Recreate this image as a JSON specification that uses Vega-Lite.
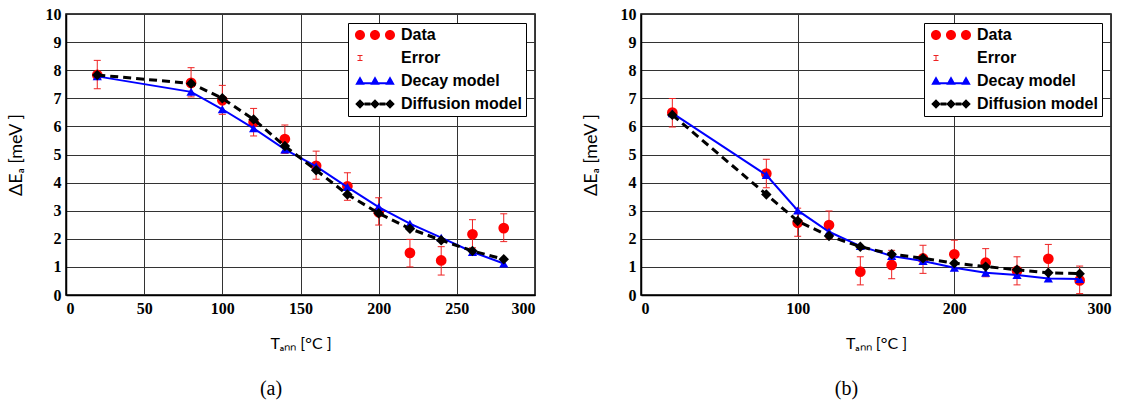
{
  "$schema": "https://vega.github.io/schema/vega-lite/v6.json",
  "padding": {"left": 6, "top": 5, "right": 5, "bottom": 0},
  "background": "white",
  "config": {
    "view": {"stroke": "black", "strokeWidth": 1.5},
    "axis": {
      "labelFont": "Liberation Serif", "labelFontWeight": "bold", "labelFontSize": 16, "labelColor": "black",
      "ticks": false, "labelPadding": 5,
      "grid": true, "gridColor": "#333333", "gridWidth": 1, "gridOpacity": 1,
      "domainColor": "black", "domainWidth": 1.5,
      "titleFont": "Lato", "titleFontWeight": "normal", "titleFontSize": 16, "titleColor": "black"
    },
    "axisY": {"titleFontSize": 18},
    "legend": {
      "title": null, "orient": "top-right", "offset": 9, "padding": 4,
      "strokeColor": "black", "fillColor": "white",
      "labelFont": "Liberation Sans", "labelFontSize": 16, "labelFontWeight": "bold", "labelColor": "black",
      "symbolSize": 100, "symbolStrokeWidth": 0, "labelOffset": 33, "rowPadding": 7
    },
    "title": {"font": "Liberation Serif", "fontSize": 20, "fontWeight": "normal", "color": "black"}
  },
  "datasets": {
    "d": [
      {"p": "a", "s": "Data", "T": 20, "v": 7.83, "lo": 7.34, "hi": 8.35},
      {"p": "a", "s": "Data", "T": 80, "v": 7.55, "lo": 7.05, "hi": 8.09},
      {"p": "a", "s": "Data", "T": 100, "v": 6.93, "lo": 6.43, "hi": 7.46},
      {"p": "a", "s": "Data", "T": 120, "v": 6.15, "lo": 5.66, "hi": 6.64},
      {"p": "a", "s": "Data", "T": 140, "v": 5.55, "lo": 5.04, "hi": 6.05},
      {"p": "a", "s": "Data", "T": 160, "v": 4.6, "lo": 4.12, "hi": 5.12},
      {"p": "a", "s": "Data", "T": 180, "v": 3.87, "lo": 3.37, "hi": 4.35},
      {"p": "a", "s": "Data", "T": 200, "v": 2.95, "lo": 2.49, "hi": 3.46},
      {"p": "a", "s": "Data", "T": 220, "v": 1.5, "lo": 1.0, "hi": 1.98},
      {"p": "a", "s": "Data", "T": 240, "v": 1.23, "lo": 0.71, "hi": 1.72},
      {"p": "a", "s": "Data", "T": 260, "v": 2.16, "lo": 1.68, "hi": 2.68},
      {"p": "a", "s": "Data", "T": 280, "v": 2.38, "lo": 1.9, "hi": 2.89},
      {"p": "a", "s": "Decay model", "T": 20, "v": 7.78},
      {"p": "a", "s": "Decay model", "T": 80, "v": 7.23},
      {"p": "a", "s": "Decay model", "T": 100, "v": 6.61},
      {"p": "a", "s": "Decay model", "T": 120, "v": 5.93},
      {"p": "a", "s": "Decay model", "T": 140, "v": 5.18},
      {"p": "a", "s": "Decay model", "T": 160, "v": 4.58},
      {"p": "a", "s": "Decay model", "T": 180, "v": 3.84},
      {"p": "a", "s": "Decay model", "T": 200, "v": 3.13},
      {"p": "a", "s": "Decay model", "T": 220, "v": 2.54},
      {"p": "a", "s": "Decay model", "T": 240, "v": 2.04},
      {"p": "a", "s": "Decay model", "T": 260, "v": 1.53},
      {"p": "a", "s": "Decay model", "T": 280, "v": 1.12},
      {"p": "a", "s": "Diffusion model", "T": 20, "v": 7.83},
      {"p": "a", "s": "Diffusion model", "T": 80, "v": 7.53},
      {"p": "a", "s": "Diffusion model", "T": 100, "v": 7.0},
      {"p": "a", "s": "Diffusion model", "T": 120, "v": 6.25},
      {"p": "a", "s": "Diffusion model", "T": 140, "v": 5.3},
      {"p": "a", "s": "Diffusion model", "T": 160, "v": 4.44},
      {"p": "a", "s": "Diffusion model", "T": 180, "v": 3.58},
      {"p": "a", "s": "Diffusion model", "T": 200, "v": 2.91},
      {"p": "a", "s": "Diffusion model", "T": 220, "v": 2.36},
      {"p": "a", "s": "Diffusion model", "T": 240, "v": 1.95},
      {"p": "a", "s": "Diffusion model", "T": 260, "v": 1.57},
      {"p": "a", "s": "Diffusion model", "T": 280, "v": 1.27},
      {"p": "b", "s": "Data", "T": 20, "v": 6.49, "lo": 5.98, "hi": 6.99},
      {"p": "b", "s": "Data", "T": 80, "v": 4.32, "lo": 3.82, "hi": 4.83},
      {"p": "b", "s": "Data", "T": 100, "v": 2.57, "lo": 2.09, "hi": 3.09},
      {"p": "b", "s": "Data", "T": 120, "v": 2.49, "lo": 2.0, "hi": 2.99},
      {"p": "b", "s": "Data", "T": 140, "v": 0.83, "lo": 0.36, "hi": 1.36},
      {"p": "b", "s": "Data", "T": 160, "v": 1.07, "lo": 0.58, "hi": 1.59},
      {"p": "b", "s": "Data", "T": 180, "v": 1.3, "lo": 0.77, "hi": 1.77},
      {"p": "b", "s": "Data", "T": 200, "v": 1.45, "lo": 0.97, "hi": 1.95},
      {"p": "b", "s": "Data", "T": 220, "v": 1.15, "lo": 0.65, "hi": 1.65},
      {"p": "b", "s": "Data", "T": 240, "v": 0.86, "lo": 0.36, "hi": 1.36},
      {"p": "b", "s": "Data", "T": 260, "v": 1.29, "lo": 0.82, "hi": 1.8},
      {"p": "b", "s": "Data", "T": 280, "v": 0.52, "lo": 0.05, "hi": 1.03},
      {"p": "b", "s": "Decay model", "T": 20, "v": 6.47},
      {"p": "b", "s": "Decay model", "T": 80, "v": 4.27},
      {"p": "b", "s": "Decay model", "T": 100, "v": 3.01},
      {"p": "b", "s": "Decay model", "T": 120, "v": 2.25},
      {"p": "b", "s": "Decay model", "T": 140, "v": 1.74},
      {"p": "b", "s": "Decay model", "T": 160, "v": 1.39},
      {"p": "b", "s": "Decay model", "T": 180, "v": 1.21},
      {"p": "b", "s": "Decay model", "T": 200, "v": 0.97},
      {"p": "b", "s": "Decay model", "T": 220, "v": 0.79},
      {"p": "b", "s": "Decay model", "T": 240, "v": 0.71},
      {"p": "b", "s": "Decay model", "T": 260, "v": 0.59},
      {"p": "b", "s": "Decay model", "T": 280, "v": 0.57},
      {"p": "b", "s": "Diffusion model", "T": 20, "v": 6.41},
      {"p": "b", "s": "Diffusion model", "T": 80, "v": 3.58},
      {"p": "b", "s": "Diffusion model", "T": 100, "v": 2.63},
      {"p": "b", "s": "Diffusion model", "T": 120, "v": 2.1},
      {"p": "b", "s": "Diffusion model", "T": 140, "v": 1.72},
      {"p": "b", "s": "Diffusion model", "T": 160, "v": 1.45},
      {"p": "b", "s": "Diffusion model", "T": 180, "v": 1.31},
      {"p": "b", "s": "Diffusion model", "T": 200, "v": 1.13},
      {"p": "b", "s": "Diffusion model", "T": 220, "v": 1.01},
      {"p": "b", "s": "Diffusion model", "T": 240, "v": 0.9},
      {"p": "b", "s": "Diffusion model", "T": 260, "v": 0.79},
      {"p": "b", "s": "Diffusion model", "T": 280, "v": 0.76}
    ]
  },
  "bounds": "flush",
  "spacing": 106,
  "resolve": {
    "scale": {"color": "independent", "shape": "independent", "x": "independent", "y": "independent"},
    "legend": {"color": "independent", "shape": "independent"}
  },
  "hconcat": [
    {
      "width": 469, "height": 281,
      "title": {"text": "(a)", "orient": "bottom", "frame": "bounds", "anchor": "middle", "offset": 28},
      "encoding": {
        "x": {"field": "T", "type": "quantitative", "title": "Tₐₙₙ [°C ]",
              "scale": {"domain": [0, 300], "nice": false},
              "axis": {"values": [0, 50, 100, 150, 200, 250, 300], "titlePadding": 19}}
      },
      "layer": [
        {
          "data": {"name": "d"},
          "transform": [{"filter": "false"}],
          "mark": {"type": "point", "filled": true, "opacity": 1, "size": 100},
          "encoding": {
            "y": {"field": "v", "type": "quantitative", "title": "ΔEₐ [meV ]", "scale": {"domain": [0, 10], "nice": false}, "axis": {"values": [0,1,2,3,4,5,6,7,8,9,10], "titlePadding": 20, "labelOverlap": false}},
            "color": {"field": "s", "type": "nominal",
              "scale": {"domain": ["Data", "Error", "Decay model", "Diffusion model"], "range": ["#ff0000", "#ee2222", "#0000ff", "#000000"]}},
            "shape": {"field": "s", "type": "nominal",
              "scale": {"domain": ["Data", "Error", "Decay model", "Diffusion model"],
                "range": [
                  "M -1 0 A 1 1 0 1 1 1 0 A 1 1 0 1 1 -1 0 Z M 2 0 A 1 1 0 1 1 4 0 A 1 1 0 1 1 2 0 Z M 5 0 A 1 1 0 1 1 7 0 A 1 1 0 1 1 5 0 Z",
                  "M -0.5 -0.6 L 0.5 -0.6 L 0.5 -0.42 L 0.1 -0.42 L 0.1 0.42 L 0.5 0.42 L 0.5 0.6 L -0.5 0.6 L -0.5 0.42 L -0.1 0.42 L -0.1 -0.42 L -0.5 -0.42 Z",
                  "M 0 -0.95 L 0.95 0.75 L -0.95 0.75 Z M 3 -0.95 L 3.95 0.75 L 2.05 0.75 Z M 6 -0.95 L 6.95 0.75 L 5.05 0.75 Z M 0 0.25 L 6 0.25 L 6 0.65 L 0 0.65 Z",
                  "M 0 -0.95 L 0.95 0 L 0 0.95 L -0.95 0 Z M 3 -0.95 L 3.95 0 L 3 0.95 L 2.05 0 Z M 6 -0.95 L 6.95 0 L 6 0.95 L 5.05 0 Z M 0.9 -0.3 L 2.1 -0.3 L 2.1 0.3 L 0.9 0.3 Z M 3.9 -0.3 L 5.1 -0.3 L 5.1 0.3 L 3.9 0.3 Z"
                ]}}
          }
        },
        {
          "data": {"name": "d"},
          "transform": [{"filter": "datum.p == 'a' && datum.s == 'Data'"}],
          "mark": {"type": "rule", "color": "#ee2222", "strokeWidth": 1},
          "encoding": {"y": {"field": "lo", "type": "quantitative", "title": "ΔEₐ [meV ]", "axis": {"values": [0,1,2,3,4,5,6,7,8,9,10], "titlePadding": 20, "labelOverlap": false}}, "y2": {"field": "hi"}}
        },
        {
          "data": {"name": "d"},
          "transform": [{"filter": "datum.p == 'a' && datum.s == 'Data'"}],
          "mark": {"type": "tick", "orient": "horizontal", "color": "#ee2222", "size": 7, "thickness": 1, "opacity": 1},
          "encoding": {"y": {"field": "lo", "type": "quantitative", "title": "ΔEₐ [meV ]", "axis": {"values": [0,1,2,3,4,5,6,7,8,9,10], "titlePadding": 20, "labelOverlap": false}}}
        },
        {
          "data": {"name": "d"},
          "transform": [{"filter": "datum.p == 'a' && datum.s == 'Data'"}],
          "mark": {"type": "tick", "orient": "horizontal", "color": "#ee2222", "size": 7, "thickness": 1, "opacity": 1},
          "encoding": {"y": {"field": "hi", "type": "quantitative", "title": "ΔEₐ [meV ]", "axis": {"values": [0,1,2,3,4,5,6,7,8,9,10], "titlePadding": 20, "labelOverlap": false}}}
        },
        {
          "data": {"name": "d"},
          "transform": [{"filter": "datum.p == 'a' && datum.s == 'Data'"}],
          "mark": {"type": "point", "shape": "circle", "filled": true, "color": "#ff0000", "size": 115, "opacity": 1},
          "encoding": {"y": {"field": "v", "type": "quantitative", "title": "ΔEₐ [meV ]", "axis": {"values": [0,1,2,3,4,5,6,7,8,9,10], "titlePadding": 20, "labelOverlap": false}}}
        },
        {
          "data": {"name": "d"},
          "transform": [{"filter": "datum.p == 'a' && datum.s == 'Decay model'"}],
          "mark": {"type": "line", "color": "#0000ff", "strokeWidth": 2,
                   "point": {"shape": "triangle-up", "size": 85, "filled": true, "color": "#0000ff", "opacity": 1}},
          "encoding": {"y": {"field": "v", "type": "quantitative", "title": "ΔEₐ [meV ]", "axis": {"values": [0,1,2,3,4,5,6,7,8,9,10], "titlePadding": 20, "labelOverlap": false}}}
        },
        {
          "data": {"name": "d"},
          "transform": [{"filter": "datum.p == 'a' && datum.s == 'Diffusion model'"}],
          "mark": {"type": "line", "color": "#000000", "strokeWidth": 3, "strokeDash": [8, 5],
                   "point": {"shape": "diamond", "size": 110, "filled": true, "color": "#000000", "opacity": 1}},
          "encoding": {"y": {"field": "v", "type": "quantitative", "title": "ΔEₐ [meV ]", "axis": {"values": [0,1,2,3,4,5,6,7,8,9,10], "titlePadding": 20, "labelOverlap": false}}}
        }
      ]
    },
    {
      "width": 470, "height": 281,
      "title": {"text": "(b)", "orient": "bottom", "frame": "bounds", "anchor": "middle", "offset": 28},
      "encoding": {
        "x": {"field": "T", "type": "quantitative", "title": "Tₐₙₙ [°C ]",
              "scale": {"domain": [0, 300], "nice": false},
              "axis": {"values": [0, 100, 200, 300], "titlePadding": 19}}
      },
      "layer": [
        {
          "data": {"name": "d"},
          "transform": [{"filter": "false"}],
          "mark": {"type": "point", "filled": true, "opacity": 1, "size": 100},
          "encoding": {
            "y": {"field": "v", "type": "quantitative", "title": "ΔEₐ [meV ]", "scale": {"domain": [0, 10], "nice": false}, "axis": {"values": [0,1,2,3,4,5,6,7,8,9,10], "titlePadding": 20, "labelOverlap": false}},
            "color": {"field": "s", "type": "nominal",
              "scale": {"domain": ["Data", "Error", "Decay model", "Diffusion model"], "range": ["#ff0000", "#ee2222", "#0000ff", "#000000"]}},
            "shape": {"field": "s", "type": "nominal",
              "scale": {"domain": ["Data", "Error", "Decay model", "Diffusion model"],
                "range": [
                  "M -1 0 A 1 1 0 1 1 1 0 A 1 1 0 1 1 -1 0 Z M 2 0 A 1 1 0 1 1 4 0 A 1 1 0 1 1 2 0 Z M 5 0 A 1 1 0 1 1 7 0 A 1 1 0 1 1 5 0 Z",
                  "M -0.5 -0.6 L 0.5 -0.6 L 0.5 -0.42 L 0.1 -0.42 L 0.1 0.42 L 0.5 0.42 L 0.5 0.6 L -0.5 0.6 L -0.5 0.42 L -0.1 0.42 L -0.1 -0.42 L -0.5 -0.42 Z",
                  "M 0 -0.95 L 0.95 0.75 L -0.95 0.75 Z M 3 -0.95 L 3.95 0.75 L 2.05 0.75 Z M 6 -0.95 L 6.95 0.75 L 5.05 0.75 Z M 0 0.25 L 6 0.25 L 6 0.65 L 0 0.65 Z",
                  "M 0 -0.95 L 0.95 0 L 0 0.95 L -0.95 0 Z M 3 -0.95 L 3.95 0 L 3 0.95 L 2.05 0 Z M 6 -0.95 L 6.95 0 L 6 0.95 L 5.05 0 Z M 0.9 -0.3 L 2.1 -0.3 L 2.1 0.3 L 0.9 0.3 Z M 3.9 -0.3 L 5.1 -0.3 L 5.1 0.3 L 3.9 0.3 Z"
                ]}}
          }
        },
        {
          "data": {"name": "d"},
          "transform": [{"filter": "datum.p == 'b' && datum.s == 'Data'"}],
          "mark": {"type": "rule", "color": "#ee2222", "strokeWidth": 1},
          "encoding": {"y": {"field": "lo", "type": "quantitative", "title": "ΔEₐ [meV ]", "axis": {"values": [0,1,2,3,4,5,6,7,8,9,10], "titlePadding": 20, "labelOverlap": false}}, "y2": {"field": "hi"}}
        },
        {
          "data": {"name": "d"},
          "transform": [{"filter": "datum.p == 'b' && datum.s == 'Data'"}],
          "mark": {"type": "tick", "orient": "horizontal", "color": "#ee2222", "size": 7, "thickness": 1, "opacity": 1},
          "encoding": {"y": {"field": "lo", "type": "quantitative", "title": "ΔEₐ [meV ]", "axis": {"values": [0,1,2,3,4,5,6,7,8,9,10], "titlePadding": 20, "labelOverlap": false}}}
        },
        {
          "data": {"name": "d"},
          "transform": [{"filter": "datum.p == 'b' && datum.s == 'Data'"}],
          "mark": {"type": "tick", "orient": "horizontal", "color": "#ee2222", "size": 7, "thickness": 1, "opacity": 1},
          "encoding": {"y": {"field": "hi", "type": "quantitative", "title": "ΔEₐ [meV ]", "axis": {"values": [0,1,2,3,4,5,6,7,8,9,10], "titlePadding": 20, "labelOverlap": false}}}
        },
        {
          "data": {"name": "d"},
          "transform": [{"filter": "datum.p == 'b' && datum.s == 'Data'"}],
          "mark": {"type": "point", "shape": "circle", "filled": true, "color": "#ff0000", "size": 115, "opacity": 1},
          "encoding": {"y": {"field": "v", "type": "quantitative", "title": "ΔEₐ [meV ]", "axis": {"values": [0,1,2,3,4,5,6,7,8,9,10], "titlePadding": 20, "labelOverlap": false}}}
        },
        {
          "data": {"name": "d"},
          "transform": [{"filter": "datum.p == 'b' && datum.s == 'Decay model'"}],
          "mark": {"type": "line", "color": "#0000ff", "strokeWidth": 2,
                   "point": {"shape": "triangle-up", "size": 85, "filled": true, "color": "#0000ff", "opacity": 1}},
          "encoding": {"y": {"field": "v", "type": "quantitative", "title": "ΔEₐ [meV ]", "axis": {"values": [0,1,2,3,4,5,6,7,8,9,10], "titlePadding": 20, "labelOverlap": false}}}
        },
        {
          "data": {"name": "d"},
          "transform": [{"filter": "datum.p == 'b' && datum.s == 'Diffusion model'"}],
          "mark": {"type": "line", "color": "#000000", "strokeWidth": 3, "strokeDash": [8, 5],
                   "point": {"shape": "diamond", "size": 110, "filled": true, "color": "#000000", "opacity": 1}},
          "encoding": {"y": {"field": "v", "type": "quantitative", "title": "ΔEₐ [meV ]", "axis": {"values": [0,1,2,3,4,5,6,7,8,9,10], "titlePadding": 20, "labelOverlap": false}}}
        }
      ]
    }
  ]
}
